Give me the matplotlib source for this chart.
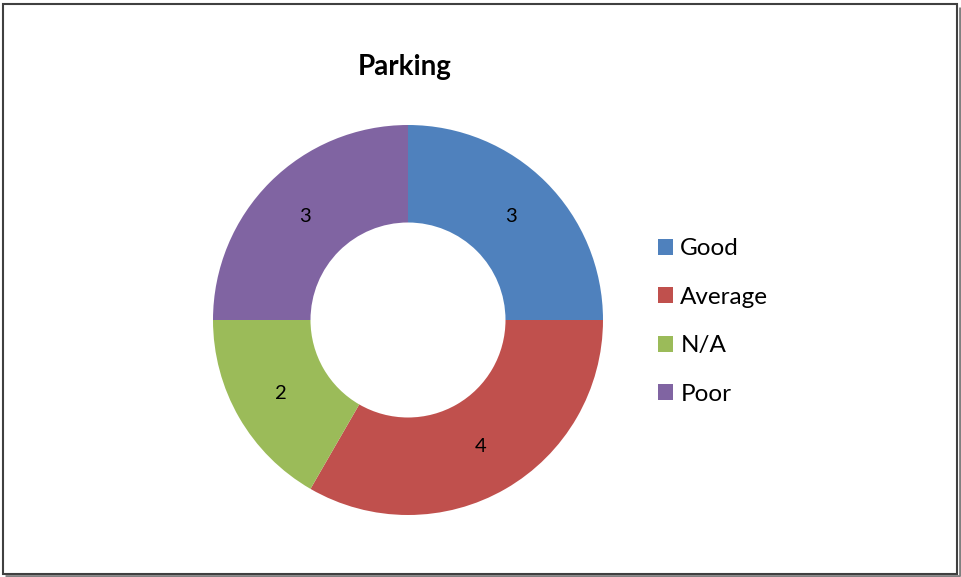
import matplotlib
matplotlib.use("Agg")
import matplotlib.pyplot as plt
from matplotlib.patches import Rectangle

categories = ["Good", "Average", "N/A", "Poor"]
values = [3, 4, 2, 3]
colors = ["#4F81BD", "#C0504D", "#9BBB59", "#8064A2"]
title = "Parking"

plt.rcParams['font.family'] = ['Lato', 'DejaVu Sans']

W, H = 962, 577
fig = plt.figure(figsize=(W / 100, H / 100), dpi=100)

cx, cy, r = 408, 320, 195
ax = fig.add_axes([(cx - r) / W, (H - cy - r) / H, 2 * r / W, 2 * r / H])
wedges, texts, autotexts = ax.pie(
    values, colors=colors, startangle=90, counterclock=False,
    radius=1.0, wedgeprops=dict(width=0.5, edgecolor="none"),
    autopct=lambda p: f"{round(p * sum(values) / 100):d}",
    pctdistance=0.75, textprops=dict(fontsize=14.5, color="black"))
ax.set_xlim(-1, 1)
ax.set_ylim(-1, 1)
ax.set_aspect("equal")

fig.text(405 / W, 1 - 67 / H, title, ha="center", va="center",
         fontsize=20, fontweight="bold")

leg = fig.legend(wedges, categories, loc="center left",
                 bbox_to_anchor=(658 / W, 1 - 321.5 / H),
                 frameon=False, fontsize=17.5, handlelength=0.62,
                 handleheight=0.62, handletextpad=0.3, labelspacing=1.13,
                 borderaxespad=0, borderpad=0)

# figure border with shadow
fig.patches.append(Rectangle((3 / W, 3 / H), (W - 8) / W, (H - 7) / H,
                             transform=fig.transFigure, fill=False,
                             edgecolor="#404040", linewidth=1.5))
fig.patches.append(Rectangle((5 / W, 1.5 / H), (W - 6.5) / W, 0,
                             transform=fig.transFigure, fill=False,
                             edgecolor="#808080", linewidth=2))
fig.patches.append(Rectangle(((W - 2) / W, 1.5 / H), 0, (H - 8) / H,
                             transform=fig.transFigure, fill=False,
                             edgecolor="#808080", linewidth=2))

fig.savefig("out.png", dpi=100)
